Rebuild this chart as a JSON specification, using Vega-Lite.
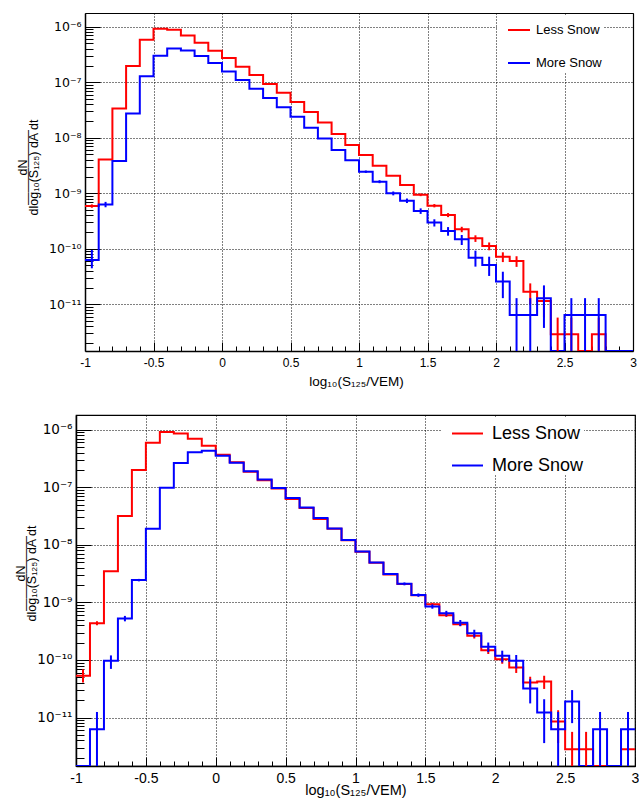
{
  "$schema": "https://vega.github.io/schema/vega-lite/v6.json",
  "background": "white",
  "padding": {"left": 0, "top": 13, "right": 0, "bottom": 0},
  "spacing": 26,
  "config": {
    "font": "Liberation Sans",
    "view": {"stroke": "#000", "strokeWidth": 1.2},
    "axis": {
      "labelFont": "Liberation Sans", "titleFont": "Liberation Sans", "titleFontWeight": "normal",
      "labelColor": "#000", "titleColor": "#000", "tickColor": "#000", "tickWidth": 1,
      "domainColor": "#000", "domainWidth": 1.5, "gridColor": "#000", "gridDash": [1, 2], "gridWidth": 1,
      "labelFlush": false, "labelOverlap": false, "labelBound": false, "grid": true
    },
    "legend": {"labelFont": "Liberation Sans", "labelColor": "#000"}
  },
  "datasets": {
    "h1": [
      {"s":"Less Snow","x":-1,"v":5.9e-10},{"s":"Less Snow","x":-0.9,"v":4.08e-9},{"s":"Less Snow","x":-0.8,"v":3.38e-8},{"s":"Less Snow","x":-0.7,"v":1.96e-7},{"s":"Less Snow","x":-0.6,"v":5.83e-7},{"s":"Less Snow","x":-0.5,"v":9.2e-7},{"s":"Less Snow","x":-0.4,"v":8.8e-7},{"s":"Less Snow","x":-0.3,"v":6.98e-7},{"s":"Less Snow","x":-0.2,"v":5.15e-7},{"s":"Less Snow","x":-0.1,"v":3.7e-7},
      {"s":"Less Snow","x":0,"v":2.73e-7},{"s":"Less Snow","x":0.1,"v":1.9e-7},{"s":"Less Snow","x":0.2,"v":1.35e-7},{"s":"Less Snow","x":0.3,"v":9.3e-8},{"s":"Less Snow","x":0.4,"v":6.5e-8},{"s":"Less Snow","x":0.5,"v":4.4e-8},{"s":"Less Snow","x":0.6,"v":2.9e-8},{"s":"Less Snow","x":0.7,"v":1.89e-8},{"s":"Less Snow","x":0.8,"v":1.17e-8},{"s":"Less Snow","x":0.9,"v":7.4e-9},
      {"s":"Less Snow","x":1,"v":4.89e-9},{"s":"Less Snow","x":1.1,"v":3.14e-9},{"s":"Less Snow","x":1.2,"v":2.07e-9},{"s":"Less Snow","x":1.3,"v":1.41e-9},{"s":"Less Snow","x":1.4,"v":9.4e-10},{"s":"Less Snow","x":1.5,"v":5.98e-10},{"s":"Less Snow","x":1.6,"v":4.06e-10},{"s":"Less Snow","x":1.7,"v":2.24e-10},{"s":"Less Snow","x":1.8,"v":1.54e-10},{"s":"Less Snow","x":1.9,"v":1.12e-10},
      {"s":"Less Snow","x":2,"v":7.2e-11},{"s":"Less Snow","x":2.1,"v":6.03e-11},{"s":"Less Snow","x":2.2,"v":1.69e-11},{"s":"Less Snow","x":2.3,"v":1.15e-11},{"s":"Less Snow","x":2.4,"v":2.88e-12},{"s":"Less Snow","x":2.5,"v":2.88e-12},{"s":"Less Snow","x":2.6,"v":0},{"s":"Less Snow","x":2.7,"v":2.88e-12},{"s":"Less Snow","x":2.8,"v":0},{"s":"Less Snow","x":2.9,"v":0},{"s":"Less Snow","x":3,"v":0},
      {"s":"More Snow","x":-1,"v":6.3e-11},{"s":"More Snow","x":-0.9,"v":6.3e-10},{"s":"More Snow","x":-0.8,"v":3.81e-9},{"s":"More Snow","x":-0.7,"v":2.75e-8},{"s":"More Snow","x":-0.6,"v":1.29e-7},{"s":"More Snow","x":-0.5,"v":3.0e-7},{"s":"More Snow","x":-0.4,"v":4.07e-7},{"s":"More Snow","x":-0.3,"v":3.75e-7},{"s":"More Snow","x":-0.2,"v":2.96e-7},{"s":"More Snow","x":-0.1,"v":2.22e-7},
      {"s":"More Snow","x":0,"v":1.57e-7},{"s":"More Snow","x":0.1,"v":1.1e-7},{"s":"More Snow","x":0.2,"v":7.65e-8},{"s":"More Snow","x":0.3,"v":5.19e-8},{"s":"More Snow","x":0.4,"v":3.53e-8},{"s":"More Snow","x":0.5,"v":2.4e-8},{"s":"More Snow","x":0.6,"v":1.52e-8},{"s":"More Snow","x":0.7,"v":9.75e-9},{"s":"More Snow","x":0.8,"v":6.0e-9},{"s":"More Snow","x":0.9,"v":3.92e-9},
      {"s":"More Snow","x":1,"v":2.45e-9},{"s":"More Snow","x":1.1,"v":1.62e-9},{"s":"More Snow","x":1.2,"v":9.97e-10},{"s":"More Snow","x":1.3,"v":7.36e-10},{"s":"More Snow","x":1.4,"v":4.8e-10},{"s":"More Snow","x":1.5,"v":2.96e-10},{"s":"More Snow","x":1.6,"v":2.09e-10},{"s":"More Snow","x":1.7,"v":1.48e-10},{"s":"More Snow","x":1.8,"v":6.92e-11},{"s":"More Snow","x":1.9,"v":5.1e-11},
      {"s":"More Snow","x":2,"v":2.57e-11},{"s":"More Snow","x":2.1,"v":6.43e-12},{"s":"More Snow","x":2.2,"v":6.43e-12},{"s":"More Snow","x":2.3,"v":1.28e-11},{"s":"More Snow","x":2.4,"v":0},{"s":"More Snow","x":2.5,"v":6.43e-12},{"s":"More Snow","x":2.6,"v":6.43e-12},{"s":"More Snow","x":2.7,"v":6.43e-12},{"s":"More Snow","x":2.8,"v":0},{"s":"More Snow","x":2.9,"v":0},{"s":"More Snow","x":3,"v":0}
    ],
    "e1": [
      {"s":"Less Snow","c":-0.95,"lo":5.49e-10,"hi":6.31e-10},{"s":"Less Snow","c":1.45,"lo":8.88e-10,"hi":9.92e-10},{"s":"Less Snow","c":1.55,"lo":5.57e-10,"hi":6.39e-10},{"s":"Less Snow","c":1.65,"lo":3.72e-10,"hi":4.4e-10},{"s":"Less Snow","c":1.75,"lo":1.99e-10,"hi":2.49e-10},{"s":"Less Snow","c":1.85,"lo":1.33e-10,"hi":1.75e-10},{"s":"Less Snow","c":1.95,"lo":9.4e-11,"hi":1.3e-10},{"s":"Less Snow","c":2.05,"lo":5.76e-11,"hi":8.64e-11},{"s":"Less Snow","c":2.15,"lo":4.72e-11,"hi":7.34e-11},{"s":"Less Snow","c":2.25,"lo":1.0e-11,"hi":2.38e-11},{"s":"Less Snow","c":2.35,"lo":5.75e-12,"hi":1.73e-11},{"s":"Less Snow","c":2.45,"lo":0,"hi":5.76e-12},{"s":"Less Snow","c":2.55,"lo":0,"hi":5.76e-12},{"s":"Less Snow","c":2.75,"lo":0,"hi":5.76e-12},
      {"s":"More Snow","c":-0.95,"lo":4.45e-11,"hi":9.5e-11},{"s":"More Snow","c":-0.85,"lo":5.6e-10,"hi":7.0e-10},{"s":"More Snow","c":1.05,"lo":2.33e-9,"hi":2.57e-9},{"s":"More Snow","c":1.15,"lo":1.52e-9,"hi":1.72e-9},{"s":"More Snow","c":1.25,"lo":9.17e-10,"hi":1.077e-9},{"s":"More Snow","c":1.35,"lo":6.67e-10,"hi":8.05e-10},{"s":"More Snow","c":1.45,"lo":4.25e-10,"hi":5.35e-10},{"s":"More Snow","c":1.55,"lo":2.52e-10,"hi":3.4e-10},{"s":"More Snow","c":1.65,"lo":1.72e-10,"hi":2.46e-10},{"s":"More Snow","c":1.75,"lo":1.17e-10,"hi":1.77e-10},{"s":"More Snow","c":1.85,"lo":4.77e-11,"hi":9.25e-11},{"s":"More Snow","c":1.95,"lo":3.24e-11,"hi":7.2e-11},{"s":"More Snow","c":2.05,"lo":1.29e-11,"hi":3.86e-11},{"s":"More Snow","c":2.15,"lo":0,"hi":1.29e-11},{"s":"More Snow","c":2.25,"lo":0,"hi":1.29e-11},{"s":"More Snow","c":2.35,"lo":3.75e-12,"hi":2.19e-11},{"s":"More Snow","c":2.55,"lo":0,"hi":1.29e-11},{"s":"More Snow","c":2.65,"lo":0,"hi":1.29e-11},{"s":"More Snow","c":2.75,"lo":0,"hi":1.29e-11}
    ],
    "h2": [
      {"s":"Less Snow","x":-1,"v":5.3e-11},{"s":"Less Snow","x":-0.9,"v":4.36e-10},{"s":"Less Snow","x":-0.8,"v":3.49e-9},{"s":"Less Snow","x":-0.7,"v":3.16e-8},{"s":"Less Snow","x":-0.6,"v":1.99e-7},{"s":"Less Snow","x":-0.5,"v":5.94e-7},{"s":"Less Snow","x":-0.4,"v":9.1e-7},{"s":"Less Snow","x":-0.3,"v":8.6e-7},{"s":"Less Snow","x":-0.2,"v":6.98e-7},{"s":"Less Snow","x":-0.1,"v":5.27e-7},
      {"s":"Less Snow","x":0,"v":3.67e-7},{"s":"Less Snow","x":0.1,"v":2.71e-7},{"s":"Less Snow","x":0.2,"v":1.86e-7},{"s":"Less Snow","x":0.3,"v":1.33e-7},{"s":"Less Snow","x":0.4,"v":9.55e-8},{"s":"Less Snow","x":0.5,"v":6.24e-8},{"s":"Less Snow","x":0.6,"v":4.35e-8},{"s":"Less Snow","x":0.7,"v":2.8e-8},{"s":"Less Snow","x":0.8,"v":1.91e-8},{"s":"Less Snow","x":0.9,"v":1.2e-8},
      {"s":"Less Snow","x":1,"v":7.6e-9},{"s":"Less Snow","x":1.1,"v":4.9e-9},{"s":"Less Snow","x":1.2,"v":3.05e-9},{"s":"Less Snow","x":1.3,"v":2.08e-9},{"s":"Less Snow","x":1.4,"v":1.33e-9},{"s":"Less Snow","x":1.5,"v":9.33e-10},{"s":"Less Snow","x":1.6,"v":6.0e-10},{"s":"Less Snow","x":1.7,"v":4.19e-10},{"s":"Less Snow","x":1.8,"v":2.63e-10},{"s":"Less Snow","x":1.9,"v":1.48e-10},
      {"s":"Less Snow","x":2,"v":1.03e-10},{"s":"Less Snow","x":2.1,"v":7.4e-11},{"s":"Less Snow","x":2.2,"v":4.06e-11},{"s":"Less Snow","x":2.3,"v":4.23e-11},{"s":"Less Snow","x":2.4,"v":8.51e-12},{"s":"Less Snow","x":2.5,"v":2.82e-12},{"s":"Less Snow","x":2.6,"v":2.82e-12},{"s":"Less Snow","x":2.7,"v":0},{"s":"Less Snow","x":2.8,"v":0},{"s":"Less Snow","x":2.9,"v":2.82e-12},{"s":"Less Snow","x":3,"v":2.82e-12},
      {"s":"More Snow","x":-1,"v":0},{"s":"More Snow","x":-0.9,"v":6.27e-12},{"s":"More Snow","x":-0.8,"v":9.66e-11},{"s":"More Snow","x":-0.7,"v":5.26e-10},{"s":"More Snow","x":-0.6,"v":2.44e-9},{"s":"More Snow","x":-0.5,"v":1.9e-8},{"s":"More Snow","x":-0.4,"v":9.8e-8},{"s":"More Snow","x":-0.3,"v":2.64e-7},{"s":"More Snow","x":-0.2,"v":4.04e-7},{"s":"More Snow","x":-0.1,"v":4.32e-7},
      {"s":"More Snow","x":0,"v":3.53e-7},{"s":"More Snow","x":0.1,"v":2.67e-7},{"s":"More Snow","x":0.2,"v":1.89e-7},{"s":"More Snow","x":0.3,"v":1.37e-7},{"s":"More Snow","x":0.4,"v":9.68e-8},{"s":"More Snow","x":0.5,"v":6.49e-8},{"s":"More Snow","x":0.6,"v":4.47e-8},{"s":"More Snow","x":0.7,"v":2.92e-8},{"s":"More Snow","x":0.8,"v":1.93e-8},{"s":"More Snow","x":0.9,"v":1.21e-8},
      {"s":"More Snow","x":1,"v":7.68e-9},{"s":"More Snow","x":1.1,"v":4.94e-9},{"s":"More Snow","x":1.2,"v":3.1e-9},{"s":"More Snow","x":1.3,"v":2.1e-9},{"s":"More Snow","x":1.4,"v":1.34e-9},{"s":"More Snow","x":1.5,"v":8.5e-10},{"s":"More Snow","x":1.6,"v":6.5e-10},{"s":"More Snow","x":1.7,"v":4.42e-10},{"s":"More Snow","x":1.8,"v":2.92e-10},{"s":"More Snow","x":1.9,"v":1.69e-10},
      {"s":"More Snow","x":2,"v":1.18e-10},{"s":"More Snow","x":2.1,"v":9.66e-11},{"s":"More Snow","x":2.2,"v":3.19e-11},{"s":"More Snow","x":2.3,"v":1.22e-11},{"s":"More Snow","x":2.4,"v":6.27e-12},{"s":"More Snow","x":2.5,"v":1.9e-11},{"s":"More Snow","x":2.6,"v":0},{"s":"More Snow","x":2.7,"v":6.27e-12},{"s":"More Snow","x":2.8,"v":0},{"s":"More Snow","x":2.9,"v":6.27e-12},{"s":"More Snow","x":3,"v":6.27e-12}
    ],
    "e2": [
      {"s":"Less Snow","c":-0.95,"lo":4.06e-11,"hi":6.9e-11},{"s":"Less Snow","c":-0.85,"lo":4.01e-10,"hi":4.71e-10},{"s":"Less Snow","c":1.55,"lo":8.82e-10,"hi":9.84e-10},{"s":"Less Snow","c":1.65,"lo":5.59e-10,"hi":6.41e-10},{"s":"Less Snow","c":1.75,"lo":3.85e-10,"hi":4.53e-10},{"s":"Less Snow","c":1.85,"lo":2.36e-10,"hi":2.9e-10},{"s":"Less Snow","c":1.95,"lo":1.27e-10,"hi":1.69e-10},{"s":"Less Snow","c":2.05,"lo":8.6e-11,"hi":1.2e-10},{"s":"Less Snow","c":2.15,"lo":5.95e-11,"hi":8.85e-11},{"s":"Less Snow","c":2.25,"lo":3.0e-11,"hi":5.12e-11},{"s":"Less Snow","c":2.35,"lo":3.14e-11,"hi":5.32e-11},{"s":"Less Snow","c":2.45,"lo":3.6e-12,"hi":1.34e-11},{"s":"Less Snow","c":2.55,"lo":0,"hi":5.64e-12},{"s":"Less Snow","c":2.65,"lo":0,"hi":5.64e-12},{"s":"Less Snow","c":2.95,"lo":0,"hi":5.64e-12},
      {"s":"More Snow","c":-0.85,"lo":0,"hi":1.25e-11},{"s":"More Snow","c":-0.75,"lo":7.0e-11,"hi":1.2e-10},{"s":"More Snow","c":-0.65,"lo":4.69e-10,"hi":5.83e-10},{"s":"More Snow","c":-0.55,"lo":2.32e-9,"hi":2.56e-9},{"s":"More Snow","c":1.35,"lo":1.98e-9,"hi":2.22e-9},{"s":"More Snow","c":1.45,"lo":1.25e-9,"hi":1.43e-9},{"s":"More Snow","c":1.55,"lo":7.77e-10,"hi":9.23e-10},{"s":"More Snow","c":1.65,"lo":5.86e-10,"hi":7.14e-10},{"s":"More Snow","c":1.75,"lo":3.89e-10,"hi":4.95e-10},{"s":"More Snow","c":1.85,"lo":2.49e-10,"hi":3.35e-10},{"s":"More Snow","c":1.95,"lo":1.37e-10,"hi":2.01e-10},{"s":"More Snow","c":2.05,"lo":9.1e-11,"hi":1.45e-10},{"s":"More Snow","c":2.15,"lo":7.17e-11,"hi":1.22e-10},{"s":"More Snow","c":2.25,"lo":1.76e-11,"hi":4.62e-11},{"s":"More Snow","c":2.35,"lo":3.6e-12,"hi":2.08e-11},{"s":"More Snow","c":2.45,"lo":0,"hi":1.25e-11},{"s":"More Snow","c":2.55,"lo":8.0e-12,"hi":3.0e-11},{"s":"More Snow","c":2.75,"lo":0,"hi":1.25e-11},{"s":"More Snow","c":2.95,"lo":0,"hi":1.25e-11}
    ]
  },
  "resolve": {"scale": {"color": "independent"}, "legend": {"color": "independent"}},
  "vconcat": [
    {
      "width": 557,
      "height": 338,
      "view": {"stroke": null},
      "resolve": {"axis": {"x": "independent", "y": "independent"}},
      "layer": [
        {
          "data": {"name": "h1"},
          "mark": {"type": "line", "interpolate": "step-after", "strokeWidth": 2, "clip": true, "strokeJoin": "miter", "strokeCap": "butt"},
          "encoding": {
            "x": {
              "field": "x", "type": "quantitative",
              "scale": {"domain": [-1, 3], "range": [9, 557], "nice": false, "zero": false},
              "axis": {
                "values": [-1,-0.9,-0.8,-0.7,-0.6,-0.5,-0.4,-0.3,-0.2,-0.1,0,0.1,0.2,0.3,0.4,0.5,0.6,0.7,0.8,0.9,1,1.1,1.2,1.3,1.4,1.5,1.6,1.7,1.8,1.9,2,2.1,2.2,2.3,2.4,2.5,2.6,2.7,2.8,2.9,3],
                "labelExpr": "abs(datum.value*2-round(datum.value*2))<0.001 ? toString(round(datum.value*10)/10) : ''",
                "tickSize": {"condition": {"test": "abs(datum.value*2-round(datum.value*2))<0.001", "value": -9}, "value": -5},
                "gridOpacity": {"condition": {"test": "abs(datum.value*2-round(datum.value*2))<0.001", "value": 1}, "value": 0},
                "labelOverlap": false, "labelFlush": false,
                "labelPadding": 15, "labelFontSize": 12,
                "title": "log₁₀(S₁₂₅/VEM)", "titleFontSize": 13.5, "titleX": 280, "titleY": 34,
                "titleBaseline": "alphabetic", "titleAlign": "center"
              }
            },
            "y": {
              "field": "v", "type": "quantitative",
              "scale": {"type": "log", "domain": [1.44e-12, 1.77e-6], "nice": false, "clamp": true},
              "axis": {
                "offset": -9,
                "values": [2e-12,3e-12,4e-12,5e-12,6e-12,7e-12,8e-12,9e-12,1e-11,2e-11,3e-11,4e-11,5e-11,6e-11,7e-11,8e-11,9e-11,1e-10,2e-10,3e-10,4e-10,5e-10,6e-10,7e-10,8e-10,9e-10,1e-9,2e-9,3e-9,4e-9,5e-9,6e-9,7e-9,8e-9,9e-9,1e-8,2e-8,3e-8,4e-8,5e-8,6e-8,7e-8,8e-8,9e-8,1e-7,2e-7,3e-7,4e-7,5e-7,6e-7,7e-7,8e-7,9e-7,1e-6],
                "labelExpr": "abs(log(datum.value)/LN10-round(log(datum.value)/LN10))<0.001 ? '10' + ['⁻⁶','⁻⁷','⁻⁸','⁻⁹','⁻¹⁰','⁻¹¹','⁻¹²'][-6-round(log(datum.value)/LN10)] : ''",
                "tickSize": {"condition": {"test": "abs(log(datum.value)/LN10-round(log(datum.value)/LN10))<0.001", "value": -15}, "value": -8},
                "gridOpacity": {"condition": {"test": "abs(log(datum.value)/LN10-round(log(datum.value)/LN10))<0.001", "value": 1}, "value": 0},
                "labelOverlap": false,
                "labelPadding": 19, "labelFontSize": 12.5, "labelFont": "DejaVu Sans",
                "minExtent": 84, "maxExtent": 84,
                "title": ["dN\u00a0\u00a0\u00a0\u00a0\u00a0\u00a0", "——————", "dlog₁₀(S₁₂₅) dA dt"],
                "titleFontSize": 12.5, "titleAngle": 270, "titleAlign": "center", "titleBaseline": "alphabetic",
                "titleX": -59, "titleY": 154, "titleLineHeight": 5.5
              }
            },
            "color": {
              "field": "s", "type": "nominal",
              "scale": {"domain": ["Less Snow", "More Snow"], "range": ["#ff0000", "#0000ff"]},
              "legend": {
                "title": null, "orient": "none", "legendX": 421, "legendY": 3, "padding": 2,
                "fillColor": "#ffffff", "strokeColor": null,
                "symbolType": "stroke", "symbolSize": 484, "symbolStrokeWidth": 2, "symbolOffset": 8,
                "labelFontSize": 13, "labelOffset": 5, "rowPadding": 14, "labelLimit": 0,
                "labelExpr": "datum.label + '\u00a0\u00a0\u00a0\u00a0\u00a0\u00a0\u00a0\u00a0'"
              }
            }
          }
        },
        {
          "data": {"name": "e1"},
          "mark": {"type": "rule", "strokeWidth": 2, "clip": true},
          "encoding": {
            "x": {
              "field": "c", "type": "quantitative",
              "scale": {"domain": [-1, 3], "range": [9, 557], "nice": false, "zero": false},
              "axis": {"orient": "top", "labels": false, "ticks": false, "grid": false, "domain": true, "domainWidth": 1.2, "title": null}
            },
            "y": {
              "field": "lo", "type": "quantitative",
              "scale": {"type": "log", "domain": [1.44e-12, 1.77e-6], "nice": false, "clamp": true},
              "axis": {"orient": "right", "labels": false, "ticks": false, "grid": false, "domain": true, "domainWidth": 1.2, "title": null}
            },
            "y2": {"field": "hi"},
            "color": {"field": "s", "type": "nominal", "scale": {"domain": ["Less Snow", "More Snow"], "range": ["#ff0000", "#0000ff"]}}
          }
        }
      ]
    },
    {
      "width": 559,
      "height": 351,
      "layer": [
        {
          "data": {"name": "h2"},
          "mark": {"type": "line", "interpolate": "step-after", "strokeWidth": 2, "clip": true, "strokeJoin": "miter", "strokeCap": "butt"},
          "encoding": {
            "x": {
              "field": "x", "type": "quantitative",
              "scale": {"domain": [-1, 3], "nice": false, "zero": false},
              "axis": {
                "values": [-1,-0.9,-0.8,-0.7,-0.6,-0.5,-0.4,-0.3,-0.2,-0.1,0,0.1,0.2,0.3,0.4,0.5,0.6,0.7,0.8,0.9,1,1.1,1.2,1.3,1.4,1.5,1.6,1.7,1.8,1.9,2,2.1,2.2,2.3,2.4,2.5,2.6,2.7,2.8,2.9,3],
                "labelExpr": "abs(datum.value*2-round(datum.value*2))<0.001 ? toString(round(datum.value*10)/10) : ''",
                "tickSize": {"condition": {"test": "abs(datum.value*2-round(datum.value*2))<0.001", "value": -9}, "value": -5},
                "gridOpacity": {"condition": {"test": "abs(datum.value*2-round(datum.value*2))<0.001", "value": 1}, "value": 0},
                "labelOverlap": false, "labelFlush": false,
                "labelPadding": 14, "labelFontSize": 14,
                "title": "log₁₀(S₁₂₅/VEM)", "titleFontSize": 14.5, "titleX": 279.5, "titleY": 28,
                "titleBaseline": "alphabetic", "titleAlign": "center"
              }
            },
            "y": {
              "field": "v", "type": "quantitative",
              "scale": {"type": "log", "domain": [1.44e-12, 1.8e-6], "nice": false, "clamp": true},
              "axis": {
                "values": [2e-12,3e-12,4e-12,5e-12,6e-12,7e-12,8e-12,9e-12,1e-11,2e-11,3e-11,4e-11,5e-11,6e-11,7e-11,8e-11,9e-11,1e-10,2e-10,3e-10,4e-10,5e-10,6e-10,7e-10,8e-10,9e-10,1e-9,2e-9,3e-9,4e-9,5e-9,6e-9,7e-9,8e-9,9e-9,1e-8,2e-8,3e-8,4e-8,5e-8,6e-8,7e-8,8e-8,9e-8,1e-7,2e-7,3e-7,4e-7,5e-7,6e-7,7e-7,8e-7,9e-7,1e-6],
                "labelExpr": "abs(log(datum.value)/LN10-round(log(datum.value)/LN10))<0.001 ? '10' + ['⁻⁶','⁻⁷','⁻⁸','⁻⁹','⁻¹⁰','⁻¹¹','⁻¹²'][-6-round(log(datum.value)/LN10)] : ''",
                "tickSize": {"condition": {"test": "abs(log(datum.value)/LN10-round(log(datum.value)/LN10))<0.001", "value": -15}, "value": -8},
                "gridOpacity": {"condition": {"test": "abs(log(datum.value)/LN10-round(log(datum.value)/LN10))<0.001", "value": 1}, "value": 0},
                "labelOverlap": false,
                "labelPadding": 19, "labelFontSize": 13.5, "labelFont": "DejaVu Sans",
                "minExtent": 75, "maxExtent": 75,
                "title": ["dN\u00a0\u00a0\u00a0\u00a0\u00a0\u00a0\u00a0\u00a0\u00a0", "——————", "dlog₁₀(S₁₂₅) dA dt"],
                "titleFontSize": 12.5, "titleAngle": 270, "titleAlign": "center", "titleBaseline": "alphabetic",
                "titleX": -52, "titleY": 158, "titleLineHeight": 5.5
              }
            },
            "color": {
              "field": "s", "type": "nominal",
              "scale": {"domain": ["Less Snow", "More Snow"], "range": ["#ff0000", "#0000ff"]},
              "legend": {
                "title": null, "orient": "none", "legendX": 366, "legendY": 2, "padding": 0,
                "fillColor": "#ffffff", "strokeColor": null,
                "symbolType": "stroke", "symbolSize": 961, "symbolStrokeWidth": 2, "symbolOffset": 9,
                "labelFontSize": 18, "labelOffset": 8, "rowPadding": 6, "labelLimit": 0,
                "labelExpr": "datum.label + '\u00a0\u00a0\u00a0\u00a0\u00a0\u00a0\u00a0\u00a0\u00a0\u00a0'"
              }
            }
          }
        },
        {
          "data": {"name": "e2"},
          "mark": {"type": "rule", "strokeWidth": 2, "clip": true},
          "encoding": {
            "x": {
              "field": "c", "type": "quantitative",
              "scale": {"domain": [-1, 3], "nice": false, "zero": false},
              "axis": {
                "values": [-1,-0.9,-0.8,-0.7,-0.6,-0.5,-0.4,-0.3,-0.2,-0.1,0,0.1,0.2,0.3,0.4,0.5,0.6,0.7,0.8,0.9,1,1.1,1.2,1.3,1.4,1.5,1.6,1.7,1.8,1.9,2,2.1,2.2,2.3,2.4,2.5,2.6,2.7,2.8,2.9,3],
                "labelExpr": "abs(datum.value*2-round(datum.value*2))<0.001 ? toString(round(datum.value*10)/10) : ''",
                "tickSize": {"condition": {"test": "abs(datum.value*2-round(datum.value*2))<0.001", "value": -9}, "value": -5},
                "gridOpacity": {"condition": {"test": "abs(datum.value*2-round(datum.value*2))<0.001", "value": 1}, "value": 0},
                "labelOverlap": false, "labelFlush": false,
                "labelPadding": 14, "labelFontSize": 14,
                "title": "log₁₀(S₁₂₅/VEM)", "titleFontSize": 14.5, "titleX": 279.5, "titleY": 28,
                "titleBaseline": "alphabetic", "titleAlign": "center"
              }
            },
            "y": {
              "field": "lo", "type": "quantitative",
              "scale": {"type": "log", "domain": [1.44e-12, 1.8e-6], "nice": false, "clamp": true},
              "axis": {
                "values": [2e-12,3e-12,4e-12,5e-12,6e-12,7e-12,8e-12,9e-12,1e-11,2e-11,3e-11,4e-11,5e-11,6e-11,7e-11,8e-11,9e-11,1e-10,2e-10,3e-10,4e-10,5e-10,6e-10,7e-10,8e-10,9e-10,1e-9,2e-9,3e-9,4e-9,5e-9,6e-9,7e-9,8e-9,9e-9,1e-8,2e-8,3e-8,4e-8,5e-8,6e-8,7e-8,8e-8,9e-8,1e-7,2e-7,3e-7,4e-7,5e-7,6e-7,7e-7,8e-7,9e-7,1e-6],
                "labelExpr": "abs(log(datum.value)/LN10-round(log(datum.value)/LN10))<0.001 ? '10' + ['⁻⁶','⁻⁷','⁻⁸','⁻⁹','⁻¹⁰','⁻¹¹','⁻¹²'][-6-round(log(datum.value)/LN10)] : ''",
                "tickSize": {"condition": {"test": "abs(log(datum.value)/LN10-round(log(datum.value)/LN10))<0.001", "value": -15}, "value": -8},
                "gridOpacity": {"condition": {"test": "abs(log(datum.value)/LN10-round(log(datum.value)/LN10))<0.001", "value": 1}, "value": 0},
                "labelOverlap": false,
                "labelPadding": 19, "labelFontSize": 13.5, "labelFont": "DejaVu Sans",
                "minExtent": 75, "maxExtent": 75,
                "title": ["dN\u00a0\u00a0\u00a0\u00a0\u00a0\u00a0\u00a0\u00a0\u00a0", "——————", "dlog₁₀(S₁₂₅) dA dt"],
                "titleFontSize": 12.5, "titleAngle": 270, "titleAlign": "center", "titleBaseline": "alphabetic",
                "titleX": -52, "titleY": 158, "titleLineHeight": 5.5
              }
            },
            "y2": {"field": "hi"},
            "color": {"field": "s", "type": "nominal", "scale": {"domain": ["Less Snow", "More Snow"], "range": ["#ff0000", "#0000ff"]}}
          }
        }
      ]
    }
  ]
}
